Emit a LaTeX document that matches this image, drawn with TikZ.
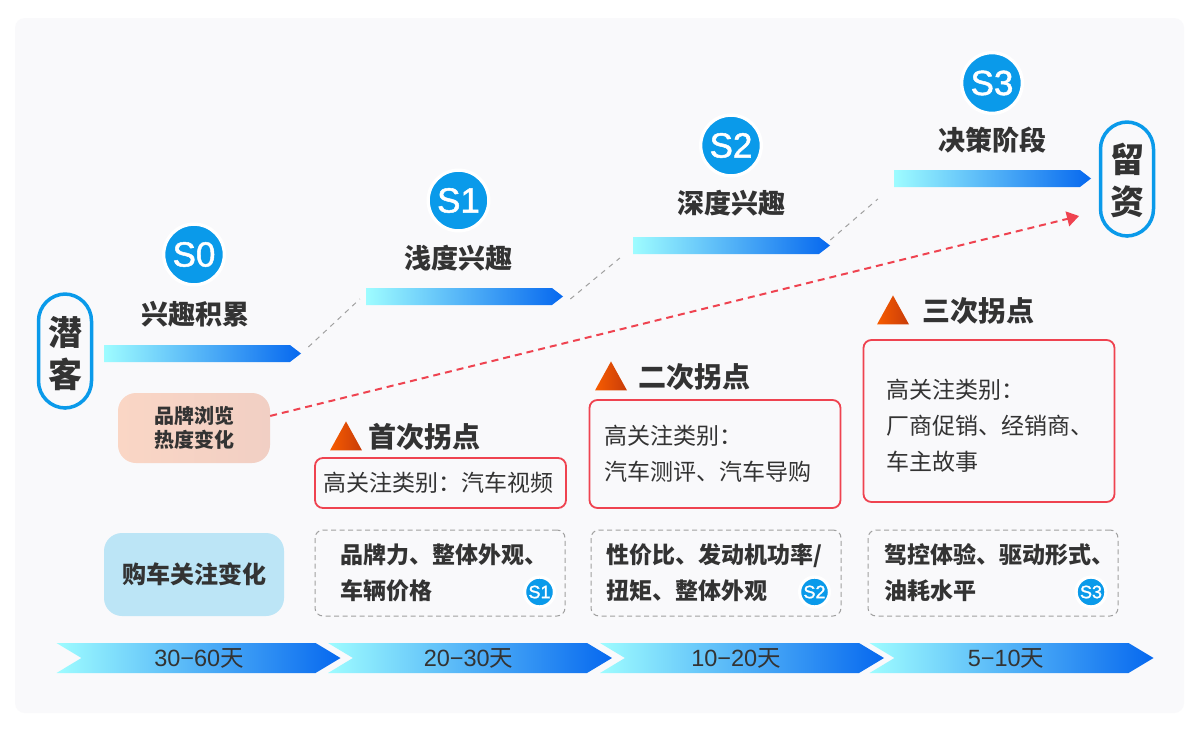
\documentclass[tikz,border=0pt]{standalone}
\usepackage{fontspec}
\setmainfont{Noto Sans CJK SC}
\newfontfamily\latinfont{Liberation Sans}
\newfontfamily\dotfont[FakeBold=1.4]{Liberation Sans}
\usetikzlibrary{positioning, calc, arrows.meta, shapes.symbols, shapes.geometric}

\definecolor{panelbg}{HTML}{F9F9FB}
\definecolor{inkdark}{HTML}{333333}
\definecolor{stageblue}{HTML}{0A9AEA}
\definecolor{barstart}{HTML}{9EFCFF}
\definecolor{barend}{HTML}{0668EF}
\definecolor{alertred}{HTML}{EF4350}
\definecolor{linkgray}{HTML}{A0A0A0}
\definecolor{tristart}{HTML}{F75C00}
\definecolor{triend}{HTML}{C83C0A}
\definecolor{peachstart}{HTML}{FAD6C5}
\definecolor{peachend}{HTML}{F1CFC4}
\definecolor{focusblue}{HTML}{BCE5F6}

\tikzset{
  bar/.style={signal, signal to=east, signal pointer angle=75, minimum width=197pt, minimum height=17pt,
    inner sep=0pt, shading=axis, left color=barstart, right color=barend},
  chevron/.style={signal, signal from=west, signal to=east, signal pointer angle=62, minimum width=284pt,
    minimum height=30pt, inner sep=0pt, shading=axis, left color=barstart, right color=barend},
  spanlabel/.style={text=inkdark, inner sep=0pt, font=\latinfont\fontsize{23.5}{24}\selectfont},
  stagedot/.style={circle, fill=stageblue, draw=white, line width=3.3pt, minimum size=60.7pt, inner sep=0pt,
    text=white, font=\dotfont\fontsize{35}{36}\selectfont},
  smalldot/.style={circle, fill=stageblue, draw=white, line width=3.2pt, minimum size=29.8pt, inner sep=0pt,
    text=white, font=\dotfont\fontsize{18}{19}\selectfont},
  stagelabel/.style={text=inkdark, inner sep=0pt, font=\bfseries\fontsize{27}{28}\selectfont},
  endpill/.style={rectangle, rounded corners=27pt, draw=stageblue, line width=3.5pt, fill=panelbg,
    minimum width=53pt, minimum height=114pt, inner sep=0pt, align=center, text=inkdark,
    font=\bfseries\fontsize{34}{42}\selectfont},
  softbox/.style={rectangle, rounded corners=18pt, inner sep=0pt, align=center, text=inkdark},
  warntri/.style={isosceles triangle, shape border rotate=90, isosceles triangle stretches, minimum width=32pt,
    minimum height=29pt, inner sep=0pt, shading=axis, left color=tristart, right color=triend},
  warnlabel/.style={text=inkdark, inner sep=0pt, yshift=4pt, font=\bfseries\fontsize{28}{29}\selectfont},
  redbox/.style={rectangle, rounded corners=8pt, draw=alertred, line width=1.8pt, minimum height=50pt,
    inner xsep=#1, inner ysep=0pt, text width=251pt-2*#1, align=left, text=inkdark,
    font=\fontsize{23}{36}\selectfont},
  dashbox/.style={rectangle, rounded corners=8pt, draw=linkgray, line width=1pt, dash pattern=on 5pt off 3.5pt,
    minimum height=86pt, inner xsep=#1, inner ysep=0pt, text width=250pt-2*#1, align=left, text=inkdark,
    font=\bfseries\fontsize{23}{36}\selectfont},
  graylink/.style={draw=linkgray, line width=1pt, dash pattern=on 5pt off 5pt},
  redlink/.style={draw=alertred, line width=2pt, dash pattern=on 7pt off 5pt, -{Triangle[length=12pt,width=15pt]}}
}

\begin{document}
\begin{tikzpicture}[x=1pt, y=-1pt]
    \useasboundingbox (0,0) rectangle (1200,736);
    \fill[white] (0,0) rectangle (1200,736);
    \fill[panelbg, rounded corners=10pt] (15,18) rectangle (1184,713);

    \node[bar] (bar0) at (197,353.5) {};
    \node[bar] (bar1) at (459,296.5) {};
    \node[bar] (bar2) at (726,245.5) {};
    \node[bar] (bar3) at (987,178.5) {};

    \node[stagelabel, above=17pt of bar0.north, xshift=-2pt] (name0) {兴趣积累};
    \node[stagelabel, above=16pt of bar1.north, xshift=-1pt] (name1) {浅度兴趣};
    \node[stagelabel, above=20pt of bar2.north, xshift=5pt] (name2) {深度兴趣};
    \node[stagelabel, above=16pt of bar3.north, xshift=5pt] (name3) {决策阶段};

    \node[stagedot] (s0) at (194,254.5) {S0};
    \node[stagedot] (s1) at (458.5,200.5) {S1};
    \node[stagedot] (s2) at (731,145.5) {S2};
    \node[stagedot] (s3) at (992,83) {S3};

    \node[endpill] (lead) at (65,351) {\rule{0pt}{34pt}潜\\客};
    \node[endpill] (keep) at (1127,179) {\rule{0pt}{32pt}留\\资};

    \node[softbox, minimum width=152pt, minimum height=70pt, left color=peachstart, right color=peachend,
      font=\bfseries\fontsize{20}{23.5}\selectfont] (brand) at (194,428) {品牌浏览\\热度变化};
    \node[softbox, fill=focusblue, minimum width=180pt, minimum height=83pt,
      font=\bfseries\fontsize{24}{26}\selectfont] (focus) at (194,574.5) {购车关注变化};

    \node[warntri] (tri1) at (346,441) {};
    \node[warntri] (tri2) at (611,381) {};
    \node[warntri] (tri3) at (893,315) {};
    \node[warnlabel, right=11.5pt of tri1] (turn1) {首次拐点};
    \node[warnlabel, right=16.5pt of tri2] (turn2) {二次拐点};
    \node[warnlabel, right=18.5pt of tri3] (turn3) {三次拐点};

    \node[redbox=8pt] (box1) at (440.5,483) {高关注类别：汽车视频};
    \node[redbox=15pt, minimum height=108pt] (box2) at (715,454) {高关注类别：\\汽车测评、汽车导购};
    \node[redbox=23pt, minimum height=162pt] (box3) at (989,421) {\rule{0pt}{29pt}高关注类别：\\厂商促销、经销商、\\车主故事};

    \node[dashbox=25pt] (car1) at (440,573) {品牌力、整体外观、\\车辆价格};
    \node[dashbox=15pt] (car2) at (716,573) {性价比、发动机功率/\\扭矩、整体外观};
    \node[dashbox=16pt] (car3) at (993,573) {驾控体验、驱动形式、\\油耗水平};

    \node[smalldot] (tag1) at (539.5,592) {S1};
    \node[smalldot] (tag2) at (814.5,592) {S2};
    \node[smalldot] (tag3) at (1091,592) {S3};

    \node[chevron] (span0) at (198.5,658) {};
    \node[chevron] (span1) at (470,658) {};
    \node[chevron] (span2) at (742,658) {};
    \node[chevron] (span3) at (1011.5,658) {};

    \node[spanlabel] (days0) at (199,658) {30−60\fontspec{Noto Sans CJK SC}天};
    \node[spanlabel] (days1) at (468.5,658) {20−30\fontspec{Noto Sans CJK SC}天};
    \node[spanlabel] (days2) at (736,658) {10−20\fontspec{Noto Sans CJK SC}天};
    \node[spanlabel] (days3) at (1006,658) {5−10\fontspec{Noto Sans CJK SC}天};

    \coordinate (aim) at (1079,216);

    \draw[graylink] ($(bar0.east)+(7,-6.5)$) -- ($(bar1.west)+(-6,2.5)$);
    \draw[graylink] ($(bar1.east)+(7,2.5)$) -- ($(bar2.west)+(-13,12.5)$);
    \draw[graylink] ($(bar2.east)+(0,-5.5)$) -- ($(bar3.west)+(-16,20.5)$);
    \draw[redlink] (brand.9) -- (aim);
\end{tikzpicture}
\end{document}
